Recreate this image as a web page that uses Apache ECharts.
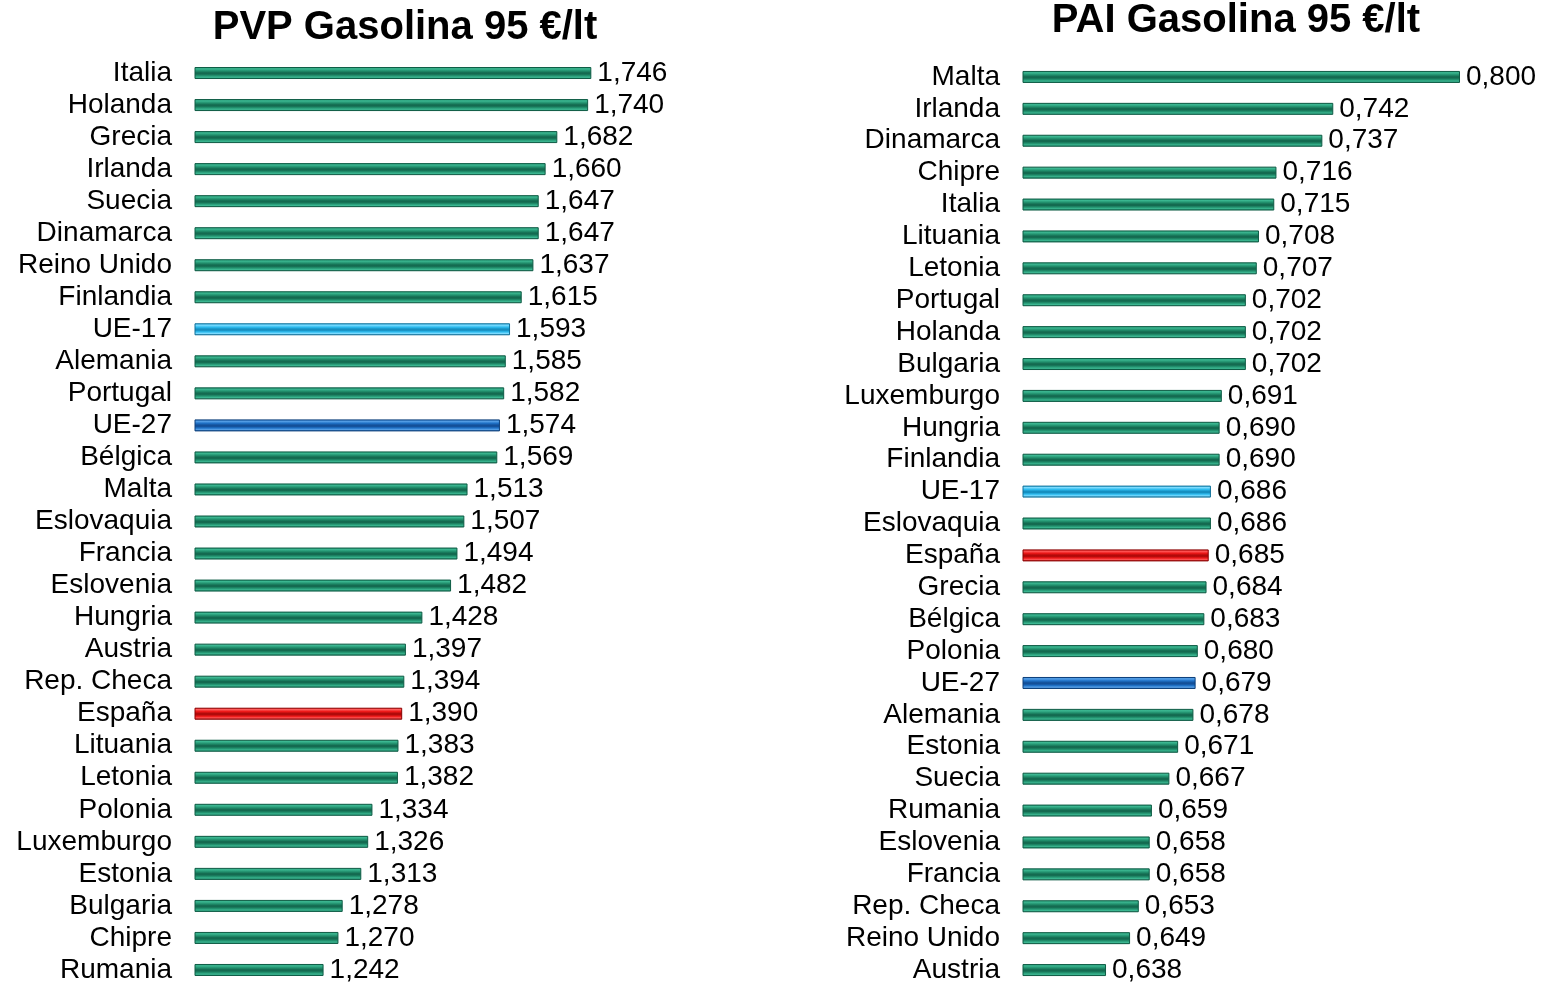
<!DOCTYPE html>
<html><head><meta charset="utf-8">
<script src="https://cdn.jsdelivr.net/npm/echarts@6/dist/echarts.min.js"></script>
<style>html,body{margin:0;padding:0;background:#fff}#c{width:1544px;height:986px}</style>
</head><body><div id="c"></div>
<script>
const leftTitle = 'PVP Gasolina 95 €/lt';
const rightTitle = 'PAI Gasolina 95 €/lt';
const leftCats = ['Italia','Holanda','Grecia','Irlanda','Suecia','Dinamarca','Reino Unido','Finlandia','UE-17','Alemania','Portugal','UE-27','Bélgica','Malta','Eslovaquia','Francia','Eslovenia','Hungria','Austria','Rep. Checa','España','Lituania','Letonia','Polonia','Luxemburgo','Estonia','Bulgaria','Chipre','Rumania'];
const leftVals = [1.746,1.740,1.682,1.660,1.647,1.647,1.637,1.615,1.593,1.585,1.582,1.574,1.569,1.513,1.507,1.494,1.482,1.428,1.397,1.394,1.390,1.383,1.382,1.334,1.326,1.313,1.278,1.270,1.242];
const rightCats = ['Malta','Irlanda','Dinamarca','Chipre','Italia','Lituania','Letonia','Portugal','Holanda','Bulgaria','Luxemburgo','Hungria','Finlandia','UE-17','Eslovaquia','España','Grecia','Bélgica','Polonia','UE-27','Alemania','Estonia','Suecia','Rumania','Eslovenia','Francia','Rep. Checa','Reino Unido','Austria'];
const rightVals = [0.800,0.742,0.737,0.716,0.715,0.708,0.707,0.702,0.702,0.702,0.691,0.690,0.690,0.686,0.686,0.685,0.684,0.683,0.680,0.679,0.678,0.671,0.667,0.659,0.658,0.658,0.653,0.649,0.638];

const palettes = {
  green: ['#0e5c45','#3cb892','#22916e','#146a50'],
  ue17:  ['#0f6f98','#7fdcff','#2fbdf0','#168fc0'],
  ue27:  ['#0c3f7a','#5aa2e8','#1f72c8','#134f98'],
  spain: ['#8a0000','#ff5a5a','#ee1818','#b00a0a']
};
function palFor(name){
  if(name==='UE-17') return palettes.ue17;
  if(name==='UE-27') return palettes.ue27;
  if(name==='España') return palettes.spain;
  return palettes.green;
}
function grad(p){
  return new echarts.graphic.LinearGradient(0,0,0,1,[
    {offset:0,color:p[2]},{offset:0.15,color:p[1]},{offset:0.32,color:p[2]},
    {offset:0.48,color:p[3]},{offset:0.58,color:p[3]},{offset:0.72,color:p[2]},
    {offset:0.86,color:p[1]},{offset:1,color:p[0]}]);
}
function mkData(cats, vals){
  return vals.map((v,i)=>{const p=palFor(cats[i]);return {value:v,itemStyle:{color:grad(p),borderColor:p[0],borderWidth:1}};});
}
const fmt = p => p.value.toFixed(3).replace('.',',');
const font = 'Liberation Sans, Arial, sans-serif';
const chart = echarts.init(document.getElementById('c'),null,{renderer:'canvas'});
chart.setOption({
  animation:false,
  backgroundColor:'#fff',
  title:[
    {text:leftTitle,left:400,top:3,textAlign:'center',textStyle:{fontFamily:font,fontSize:40,fontWeight:'bold',color:'#000'}},
    {text:rightTitle,left:1231,top:-4,textAlign:'center',textStyle:{fontFamily:font,fontSize:40,fontWeight:'bold',color:'#000'}}
  ],
  grid:[
    {left:195,top:57,width:425,height:929,containLabel:false},
    {left:1023,top:61,width:437,height:925,containLabel:false}
  ],
  xAxis:[
    {gridIndex:0,type:'value',min:1.0,max:1.8,show:false},
    {gridIndex:1,type:'value',min:0.6,max:0.8,show:false}
  ],
  yAxis:[
    {gridIndex:0,type:'category',data:leftCats,inverse:true,axisLine:{show:false},axisTick:{show:false},splitLine:{show:false},
     axisLabel:{interval:0,margin:23,fontFamily:font,fontSize:28,color:'#000'}},
    {gridIndex:1,type:'category',data:rightCats,inverse:true,axisLine:{show:false},axisTick:{show:false},splitLine:{show:false},
     axisLabel:{interval:0,margin:23,fontFamily:font,fontSize:28,color:'#000'}}
  ],
  series:[
    {type:'bar',xAxisIndex:0,yAxisIndex:0,data:mkData(leftCats,leftVals),barWidth:12,
     label:{show:true,position:'right',distance:6,formatter:fmt,fontFamily:font,fontSize:28,color:'#000'}},
    {type:'bar',xAxisIndex:1,yAxisIndex:1,data:mkData(rightCats,rightVals),barWidth:12,
     label:{show:true,position:'right',distance:6,formatter:fmt,fontFamily:font,fontSize:28,color:'#000'}}
  ]
});
</script></body></html>
